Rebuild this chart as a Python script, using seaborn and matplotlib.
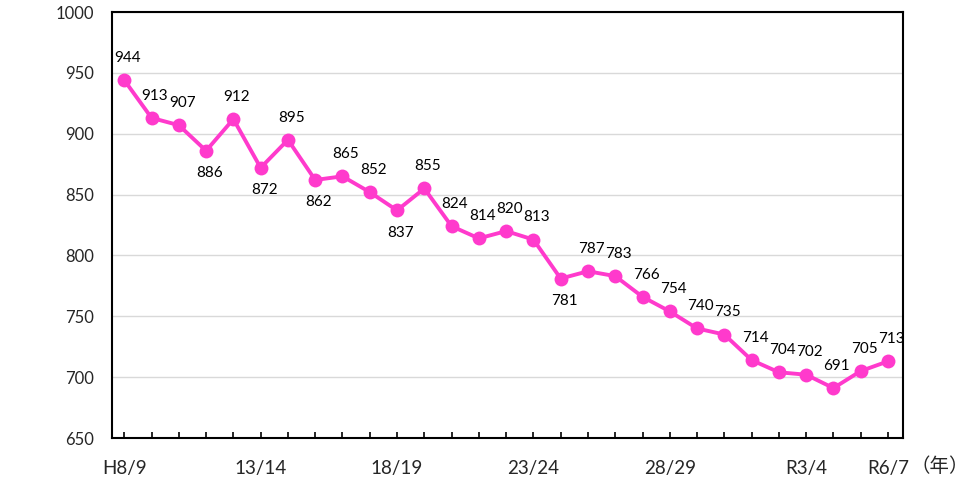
import numpy as np
import pandas as pd
import matplotlib
matplotlib.use("Agg")
import matplotlib.pyplot as plt
import seaborn as sns

values = [944, 913, 907, 886, 912, 872, 895, 862, 865, 852, 837, 855, 824, 814,
          820, 813, 781, 787, 783, 766, 754, 740, 735, 714, 704, 702, 691, 705, 713]
tick_pos = [0, 5, 10, 15, 20, 25, 28]
tick_labels = ["H8/9", "13/14", "18/19", "23/24", "28/29", "R3/4", "R6/7"]
below = [3, 5, 7, 10, 16]

sns.set_theme(style="white")
plt.rcParams['font.family'] = ['Lato', 'Noto Sans CJK JP', 'DejaVu Sans']

df = pd.DataFrame({"x": np.arange(len(values)), "v": values})
color = "#FF3ACC"

fig = plt.figure(figsize=(9.73, 4.83), dpi=100)
ax = fig.add_axes([112/973, 1 - 438/483, (903-112)/973, (438-12)/483])
sns.lineplot(data=df, x="x", y="v", ax=ax, color=color, linewidth=2.8,
             marker="o", markersize=10, markeredgewidth=0, zorder=3)

ax.set_ylim(650, 1000)
ax.set_yticks(np.arange(650, 1001, 50))
ax.set_xlim(-0.45, len(values) - 0.45)
ax.grid(axis="y", color="#d9d9d9", linewidth=1)
ax.set_axisbelow(True)
ax.set_xlabel("")
ax.set_ylabel("")

ax.set_xticks(tick_pos)
ax.set_xticklabels(tick_labels, fontsize=13.5)
ax.set_xticks(np.arange(0, len(values), 1), minor=True)
ax.tick_params(axis="x", which="major", direction="in", length=4, width=1.2, color="black", pad=16, bottom=True)
ax.tick_params(axis="x", which="minor", direction="in", length=4, width=1.2, color="black", bottom=True)
ax.tick_params(axis="y", length=0, pad=13, labelsize=12)

for s in ax.spines.values():
    s.set_color("black")
    s.set_linewidth(1.5)

for i, v in enumerate(values):
    dy = -16 if i in below else 16
    ax.annotate(str(v), (i, v), xytext=(2.5, dy), textcoords="offset points",
                ha="center", va="center", fontsize=11, color="black")

fig.text(911/973, 1 - 467/483, "（年）", fontsize=14, ha="left", va="center",
         family=['Noto Sans CJK JP', 'DejaVu Sans'])

fig.savefig("out.png", dpi=100)
